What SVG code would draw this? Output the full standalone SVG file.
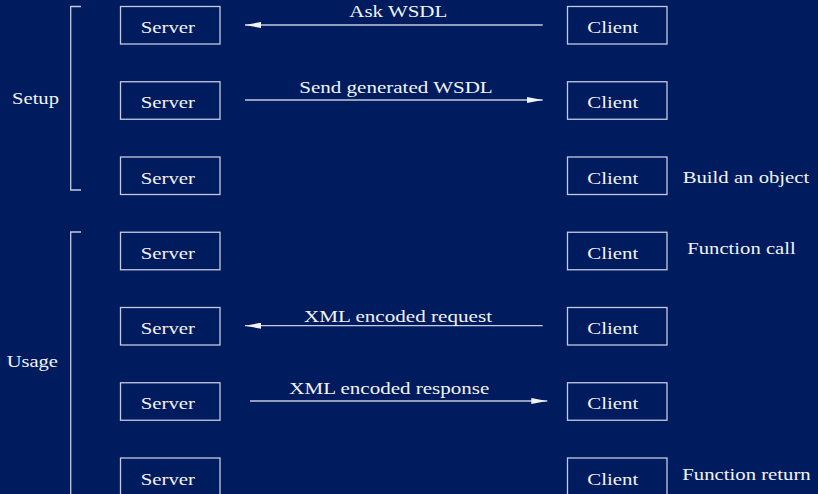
<svg xmlns="http://www.w3.org/2000/svg" width="818" height="494" viewBox="0 0 818 494">
<defs>
<style>
.bg{fill:#001b5e}
.box{fill:none;stroke:#c4cbe0;stroke-width:1.3}
text{font-family:"Times New Roman","Liberation Serif","DejaVu Serif",Times,serif;font-size:17.5px;fill:#f2f3f7}
.ln{stroke:#c4cbe0;stroke-width:1.3;fill:none}
.ah{fill:#f2f3f7}
</style>
<marker id="arr" viewBox="0 0 16 6" refX="16" refY="3" markerWidth="16" markerHeight="6" markerUnits="userSpaceOnUse" orient="auto">
<path d="M0,0 L16,3 L0,6 Z" class="ah"/>
</marker>
</defs>
<rect class="bg" x="0" y="0" width="818" height="494"/>

<g id="brackets">
<path class="ln" d="M81,6.5 H70.7 V190 H81"/>
<path class="ln" d="M81,232 H70.7 V494"/>
<text x="12" y="104" textLength="47" lengthAdjust="spacingAndGlyphs">Setup</text>
<text x="6.7" y="367" textLength="51.3" lengthAdjust="spacingAndGlyphs">Usage</text>
</g>

<g id="server1"><rect class="box" x="120.5" y="6.5" width="99.5" height="37.5"/><text x="140.7" y="33" textLength="54.3" lengthAdjust="spacingAndGlyphs">Server</text></g>
<g id="server2"><rect class="box" x="120.5" y="81.75" width="99.5" height="37.5"/><text x="140.7" y="108.25" textLength="54.3" lengthAdjust="spacingAndGlyphs">Server</text></g>
<g id="server3"><rect class="box" x="120.5" y="157" width="99.5" height="37.5"/><text x="140.7" y="183.5" textLength="54.3" lengthAdjust="spacingAndGlyphs">Server</text></g>
<g id="server4"><rect class="box" x="120.5" y="232.25" width="99.5" height="37.5"/><text x="140.7" y="258.75" textLength="54.3" lengthAdjust="spacingAndGlyphs">Server</text></g>
<g id="server5"><rect class="box" x="120.5" y="307.5" width="99.5" height="37.5"/><text x="140.7" y="334" textLength="54.3" lengthAdjust="spacingAndGlyphs">Server</text></g>
<g id="server6"><rect class="box" x="120.5" y="382.75" width="99.5" height="37.5"/><text x="140.7" y="409.25" textLength="54.3" lengthAdjust="spacingAndGlyphs">Server</text></g>
<g id="server7"><rect class="box" x="120.5" y="458" width="99.5" height="37.5"/><text x="140.7" y="484.5" textLength="54.3" lengthAdjust="spacingAndGlyphs">Server</text></g>

<g id="client1"><rect class="box" x="567.5" y="6.5" width="99.5" height="37.5"/><text x="587.3" y="33" textLength="51" lengthAdjust="spacingAndGlyphs">Client</text></g>
<g id="client2"><rect class="box" x="567.5" y="81.75" width="99.5" height="37.5"/><text x="587.3" y="108.25" textLength="51" lengthAdjust="spacingAndGlyphs">Client</text></g>
<g id="client3"><rect class="box" x="567.5" y="157" width="99.5" height="37.5"/><text x="587.3" y="183.5" textLength="51" lengthAdjust="spacingAndGlyphs">Client</text></g>
<g id="client4"><rect class="box" x="567.5" y="232.25" width="99.5" height="37.5"/><text x="587.3" y="258.75" textLength="51" lengthAdjust="spacingAndGlyphs">Client</text></g>
<g id="client5"><rect class="box" x="567.5" y="307.5" width="99.5" height="37.5"/><text x="587.3" y="334" textLength="51" lengthAdjust="spacingAndGlyphs">Client</text></g>
<g id="client6"><rect class="box" x="567.5" y="382.75" width="99.5" height="37.5"/><text x="587.3" y="409.25" textLength="51" lengthAdjust="spacingAndGlyphs">Client</text></g>
<g id="client7"><rect class="box" x="567.5" y="458" width="99.5" height="37.5"/><text x="587.3" y="484.5" textLength="51" lengthAdjust="spacingAndGlyphs">Client</text></g>

<g id="notes">
<text x="682.7" y="183" textLength="126.6" lengthAdjust="spacingAndGlyphs">Build an object</text>
<text x="687.3" y="254" textLength="108.4" lengthAdjust="spacingAndGlyphs">Function call</text>
<text x="682.3" y="480" textLength="128.4" lengthAdjust="spacingAndGlyphs">Function return</text>
</g>

<g id="connectors">
<line class="ln" x1="542.7" y1="25" x2="245" y2="25" marker-end="url(#arr)"/>
<text x="349.3" y="17.3" textLength="98" lengthAdjust="spacingAndGlyphs">Ask WSDL</text>
<line class="ln" x1="245" y1="100" x2="542.7" y2="100" marker-end="url(#arr)"/>
<text x="299.3" y="92.7" textLength="193.4" lengthAdjust="spacingAndGlyphs">Send generated WSDL</text>
<line class="ln" x1="542.7" y1="325.7" x2="245" y2="325.7" marker-end="url(#arr)"/>
<text x="304" y="322.3" textLength="188" lengthAdjust="spacingAndGlyphs">XML encoded request</text>
<line class="ln" x1="250" y1="401" x2="547.3" y2="401" marker-end="url(#arr)"/>
<text x="289.3" y="394" textLength="200" lengthAdjust="spacingAndGlyphs">XML encoded response</text>
</g>
</svg>
